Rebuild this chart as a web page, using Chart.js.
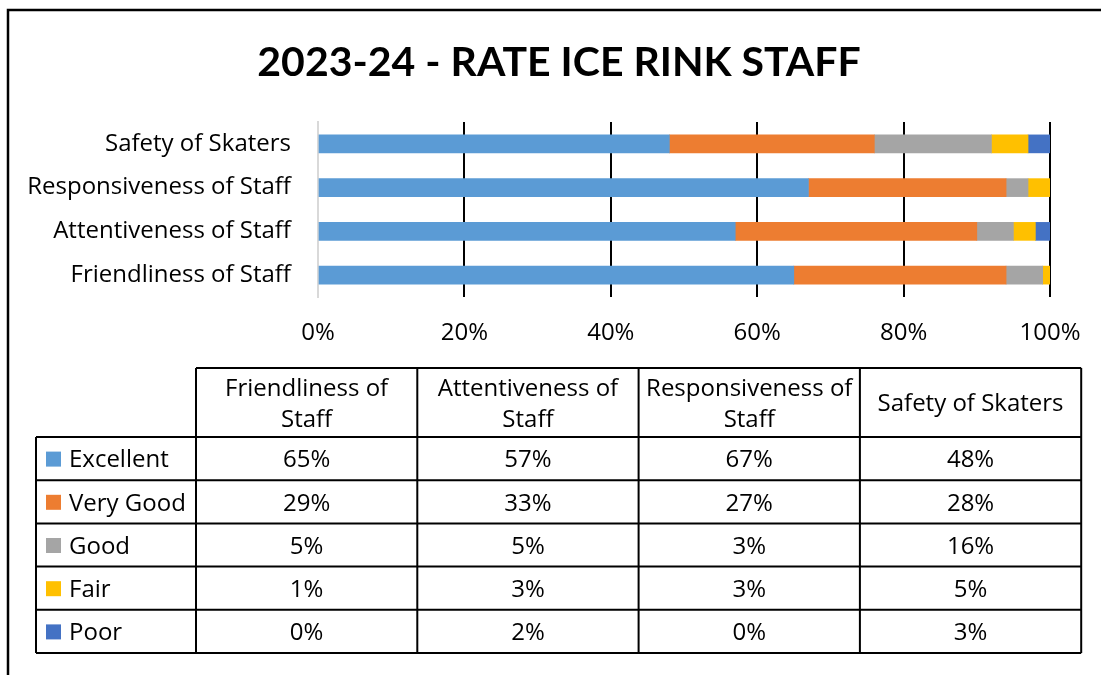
<!DOCTYPE html>
<html>
<head>
<meta charset="utf-8">
<script src="https://cdn.jsdelivr.net/npm/chart.js@4.4.1/dist/chart.umd.min.js"></script>
<style>
    body { margin: 0; background: #fff; }
    #wrap { width: 1101px; height: 675px; position: relative; }
</style>
</head>
<body>
<div id="wrap"><canvas id="rinkChart"></canvas></div>
<script>
const chartTitle = "2023-24 - RATE ICE RINK STAFF";
const categories = ["Friendliness of Staff", "Attentiveness of Staff", "Responsiveness of Staff", "Safety of Skaters"];
const ratingNames = ["Excellent", "Very Good", "Good", "Fair", "Poor"];
const excellent = [65, 57, 67, 48];
const veryGood = [29, 33, 27, 28];
const good = [5, 5, 3, 16];
const fair = [1, 3, 3, 5];
const poor = [0, 2, 0, 3];
const ratingColors = ["#5b9bd5", "#ed7d31", "#a5a5a5", "#ffc000", "#4472c4"];

const TITLE_FONT = "Lato";
const FONT = "Open Sans";
const FONT_SIZE = 24;

const seriesValues = [excellent, veryGood, good, fair, poor];

// border, title and the data table under the chart
const frameAndTable = {
    id: "frameAndTable",
    beforeDraw(chart) {
        const ctx = chart.ctx;
        ctx.save();
        ctx.fillStyle = "#fff";
        ctx.fillRect(0, 0, chart.width, chart.height);
        ctx.strokeStyle = "#000";
        ctx.lineWidth = 2.5;
        ctx.beginPath();
        ctx.moveTo(8, chart.height);
        ctx.lineTo(8, 10);
        ctx.lineTo(chart.width, 10);
        ctx.stroke();

        ctx.fillStyle = "#000";
        ctx.font = "bold 41px " + TITLE_FONT;
        ctx.textAlign = "center";
        ctx.textBaseline = "alphabetic";
        ctx.fillText(chartTitle, 559, 76);
        ctx.restore();
    },
    afterDraw(chart) {
        const ctx = chart.ctx;
        const labels = chart.data.labels;
        const sets = chart.data.datasets;
        const top = 368, headH = 69, rowH = 43.2;
        const legL = 36, colL = 196, colW = 221.3;
        const right = colL + colW * labels.length;
        const bottom = top + headH + rowH * sets.length;
        const dy = 2;

        ctx.save();
        ctx.strokeStyle = "#000";
        ctx.lineWidth = 2;
        ctx.beginPath();
        ctx.moveTo(colL, top); ctx.lineTo(right, top);
        for (let j = 0; j <= labels.length; j++) {
            ctx.moveTo(colL + colW * j, top);
            ctx.lineTo(colL + colW * j, bottom);
        }
        for (let i = 0; i <= sets.length; i++) {
            const y = top + headH + rowH * i;
            ctx.moveTo(legL, y); ctx.lineTo(right, y);
        }
        ctx.moveTo(legL, top + headH); ctx.lineTo(legL, bottom);
        ctx.stroke();

        ctx.fillStyle = "#000";
        ctx.font = FONT_SIZE + "px " + FONT;
        ctx.textAlign = "center";
        ctx.textBaseline = "middle";

        labels.forEach((lab, j) => {
            const cx = colL + colW * (j + 0.5);
            const words = lab.split(" ");
            const lines = [];
            let cur = "";
            words.forEach(w => {
                const test = cur ? cur + " " + w : w;
                if (ctx.measureText(test).width > 212 && cur) {
                    lines.push(cur);
                    cur = w;
                } else {
                    cur = test;
                }
            });
            lines.push(cur);
            const lh = 31;
            const startY = top + headH / 2 - (lines.length - 1) * lh / 2 + dy;
            lines.forEach((ln, k) => ctx.fillText(ln, cx, startY + k * lh));
        });

        sets.forEach((ds, i) => {
            const cy = top + headH + rowH * (i + 0.5);
            ctx.fillStyle = ds.backgroundColor;
            ctx.fillRect(46, cy - 7, 15, 15);
            ctx.fillStyle = "#000";
            ctx.textAlign = "left";
            ctx.fillText(ds.label, 69, cy + dy);
            ctx.textAlign = "center";
            ds.data.forEach((v, j) => {
                ctx.fillText(v + "%", colL + colW * (j + 0.5), cy + dy);
            });
        });
        ctx.restore();
    }
};

const datasets = ratingNames.map((name, i) => ({
    label: name,
    data: seriesValues[i],
    backgroundColor: ratingColors[i],
    barThickness: 18
}));

new Chart(document.getElementById("rinkChart"), {
    type: "bar",
    data: { labels: categories, datasets: datasets },
    plugins: [frameAndTable],
    options: {
        indexAxis: "y",
        responsive: true,
        maintainAspectRatio: false,
        animation: false,
        layout: { padding: { left: 0, right: 51, top: 122, bottom: 318 } },
        plugins: {
            legend: { display: false },
            title: { display: false },
            tooltip: { enabled: false }
        },
        scales: {
            x: {
                stacked: true,
                min: 0,
                max: 100,
                afterFit(scale) {
                    scale.height = 60;
                    // keep the label padding from squeezing the plot width
                    scale.paddingRight = Math.min(scale.paddingRight, 40);
                    scale.paddingLeft = 0;
                },
                ticks: {
                    stepSize: 20,
                    padding: 22,
                    color: "#000",
                    font: { family: FONT, size: FONT_SIZE },
                    callback: v => v + "%"
                },
                grid: {
                    drawTicks: false,
                    lineWidth: 2,
                    color: c => (c.tick && c.tick.value === 0) ? "rgba(0,0,0,0)" : "#000"
                },
                border: { display: false }
            },
            y: {
                stacked: true,
                reverse: true,
                afterFit(scale) { scale.width = 318; },
                ticks: {
                    padding: 27,
                    color: "#000",
                    font: { family: FONT, size: FONT_SIZE }
                },
                grid: { display: false, drawTicks: false },
                border: { display: true, color: "#d9d9d9", width: 2 }
            }
        }
    }
});
</script>
</body>
</html>
